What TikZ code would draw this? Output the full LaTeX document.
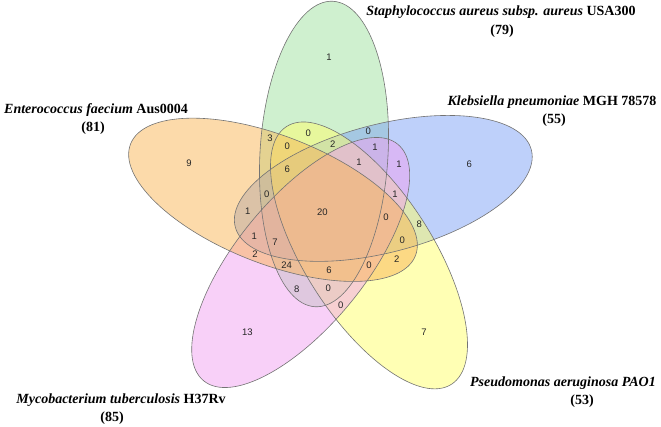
\documentclass[tikz,border=0pt]{standalone}
\usepackage{fontspec}
\setmainfont{Liberation Serif}
\newfontfamily\numfont{Liberation Sans}
\definecolor{staphgreen}{RGB}{159,225,159}
\definecolor{klebblue}{RGB}{125,161,245}
\definecolor{pseudoyellow}{RGB}{255,255,105}
\definecolor{mycopink}{RGB}{241,161,241}
\definecolor{enteroorange}{RGB}{249,181,85}

\begin{document}
\begin{tikzpicture}[x=1pt,y=1pt,line join=round,
    setfill/.style={fill opacity=0.5},
    setline/.style={draw=black!55,line width=0.6pt},
    cnt/.style={font=\numfont\fontsize{9.5}{11}\selectfont,text=black!85,inner sep=0pt},
    title/.style={font=\bfseries\fontsize{14}{19}\selectfont,inner sep=0pt}]
                \useasboundingbox (0,-426) rectangle (661,0);
                \fill [staphgreen,setfill,rotate around={86.6:(324,-154)}] (324,-154) ellipse (153 and 64);
                \fill [klebblue,setfill,rotate around={14.6:(383.3,-188.4)}] (383.3,-188.4) ellipse (153 and 64);
                \fill [pseudoyellow,setfill,rotate around={-57.4:(369,-255.4)}] (369,-255.4) ellipse (153 and 64);
                \fill [mycopink,setfill,rotate around={-129.4:(300.7,-262.5)}] (300.7,-262.5) ellipse (153 and 64);
                \fill [enteroorange,setfill,rotate around={158.6:(273,-199.8)}] (273,-199.8) ellipse (153 and 64);
                \draw [setline,rotate around={86.6:(324,-154)}] (324,-154) ellipse (153 and 64);
                \draw [setline,rotate around={14.6:(383.3,-188.4)}] (383.3,-188.4) ellipse (153 and 64);
                \draw [setline,rotate around={-57.4:(369,-255.4)}] (369,-255.4) ellipse (153 and 64);
                \draw [setline,rotate around={-129.4:(300.7,-262.5)}] (300.7,-262.5) ellipse (153 and 64);
                \draw [setline,rotate around={158.6:(273,-199.8)}] (273,-199.8) ellipse (153 and 64);
                \node [title] (SA) at (501,-12) {\textit{Staphylococcus aureus subsp. aureus} USA300};
                \node [title] (SAn) at (502,-31) {(79)};
                \node [title] (KP) at (552,-102) {\textit{Klebsiella pneumoniae} MGH 78578};
                \node [title] (KPn) at (554,-120) {(55)};
                \node [title] (EF) at (96,-110) {\textit{Enterococcus faecium} Aus0004};
                \node [title] (EFn) at (93,-128) {(81)};
                \node [title] (MT) at (121,-400) {\textit{Mycobacterium tuberculosis} H37Rv};
                \node [title] (MTn) at (112,-418) {(85)};
                \node [title] (PA) at (563,-383) {\textit{Pseudomonas aeruginosa PAO1}};
                \node [title] (PAn) at (582,-401) {(53)};
                \node [cnt] (s1) at (329,-57.7) {1};
                \node [cnt] (e9) at (189,-163.3) {9};
                \node [cnt] (k6) at (469.3,-164) {6};
                \node [cnt] (m13) at (247.3,-332) {13};
                \node [cnt] (p7) at (424,-332) {7};
                \node [cnt] (r1) at (308.3,-133.3) {0};
                \node [cnt] (r2) at (368.3,-131.7) {0};
                \node [cnt] (r3) at (270,-138.3) {3};
                \node [cnt] (r4) at (287.3,-146) {0};
                \node [cnt] (r5) at (332.7,-144) {2};
                \node [cnt] (r6) at (375,-147.7) {1};
                \node [cnt] (r7) at (359,-162.3) {1};
                \node [cnt] (r8) at (399,-164.3) {1};
                \node [cnt] (r9) at (287.3,-169) {6};
                \node [cnt] (r10) at (266.7,-194.3) {0};
                \node [cnt] (r11) at (395,-194) {1};
                \node [cnt] (r12) at (247.7,-211) {1};
                \node [cnt] (r13) at (322.3,-212.3) {20};
                \node [cnt] (r14) at (386,-217.3) {0};
                \node [cnt] (r15) at (419.3,-224.3) {8};
                \node [cnt] (r16) at (254.3,-236) {1};
                \node [cnt] (r17) at (275,-242.7) {7};
                \node [cnt] (r18) at (402.3,-240) {0};
                \node [cnt] (r19) at (255,-254) {2};
                \node [cnt] (r20) at (286.7,-265) {24};
                \node [cnt] (r21) at (329,-270) {6};
                \node [cnt] (r22) at (369,-265) {0};
                \node [cnt] (r23) at (396.7,-259) {2};
                \node [cnt] (r24) at (296.7,-289) {8};
                \node [cnt] (r25) at (328.3,-288.3) {0};
                \node [cnt] (r26) at (340.7,-305) {0};
            \end{tikzpicture}
\end{document}
